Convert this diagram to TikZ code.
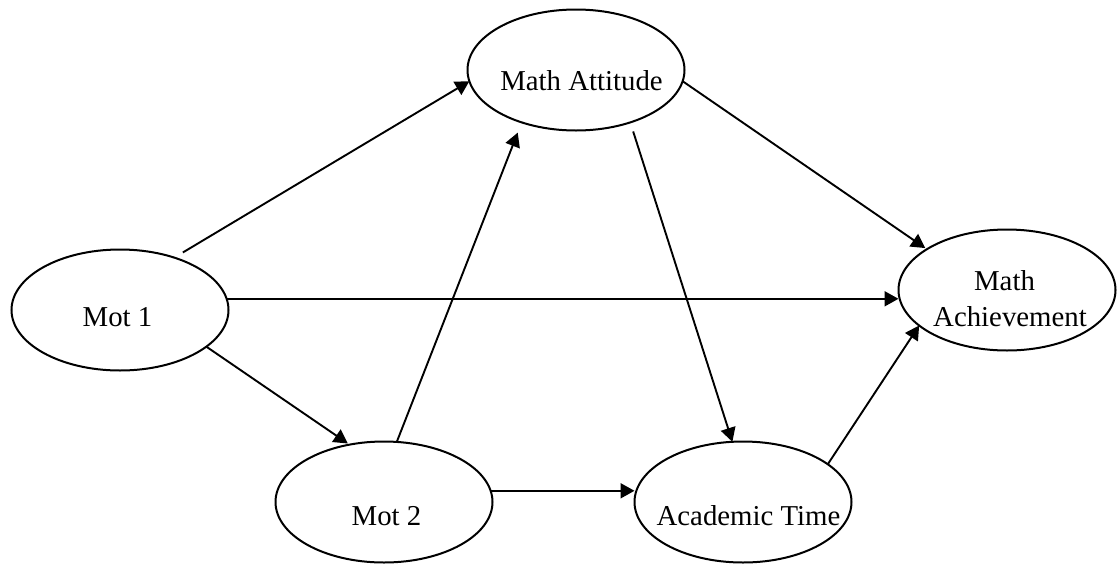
\documentclass[tikz,border=0pt]{standalone}
\usepackage{fontspec}
\setmainfont{Liberation Serif}
\usetikzlibrary{shapes.geometric,arrows.meta,calc}

\tikzset{
  latent/.style={ellipse, draw, line width=2pt, minimum width=217pt,
    minimum height=121pt, inner sep=0pt, outer sep=0pt},
  lbl/.style={anchor=base, inner sep=0pt,
    font=\fontsize{28.8}{36}\selectfont},
  path/.style={line width=1.9pt,
    -{Triangle[length=14pt,width=15pt]}}
}

\begin{document}
\begin{tikzpicture}[x=1pt,y=-1pt]
  \useasboundingbox (0,0) rectangle (1117,563);

  % latent variables
  \node[latent] (mot1) at (120,310) {};
  \node[latent] (matt) at (576,70) {};
  \node[latent] (mach) at (1007,290) {};
  \node[latent] (mot2) at (384,502) {};
  \node[latent] (acad) at (743,502) {};

  % variable names
  \node[lbl] (mot1t) at (117.5,326) {Mot 1};
  \node[lbl] (mattt) at (581.5,90) {Math Attitude};
  \node[lbl] (macht1) at (1004.5,290) {Math};
  \node[lbl] (macht2) at (1010,326) {Achievement};
  \node[lbl] (mot2t) at (386.5,525) {Mot 2};
  \node[lbl] (acadt) at (748.5,525) {Academic Time};

  % structural paths
  \draw[path, shorten <=10pt] (mot1.44.5) -- (matt.186);
  \draw[path, shorten >=2pt] (matt.-6.3) -- (mach.153);
  \draw[path] (mot1.6.3) -- (mot1.6.3 -| mach.west);
  \draw[path, shorten >=2pt] (mot1.-23) -- (mot2.121);
  \draw[path, shorten >=11pt] (mot2.78) -- (matt.224);
  \draw[path, shorten <=9.5pt] (matt.-44) -- (acad.100);
  \draw[path] (mot2.6.3) -- (mot2.6.3 -| acad.west);
  \draw[path] (acad.24) -- (mach.202.6);
\end{tikzpicture}
\end{document}
